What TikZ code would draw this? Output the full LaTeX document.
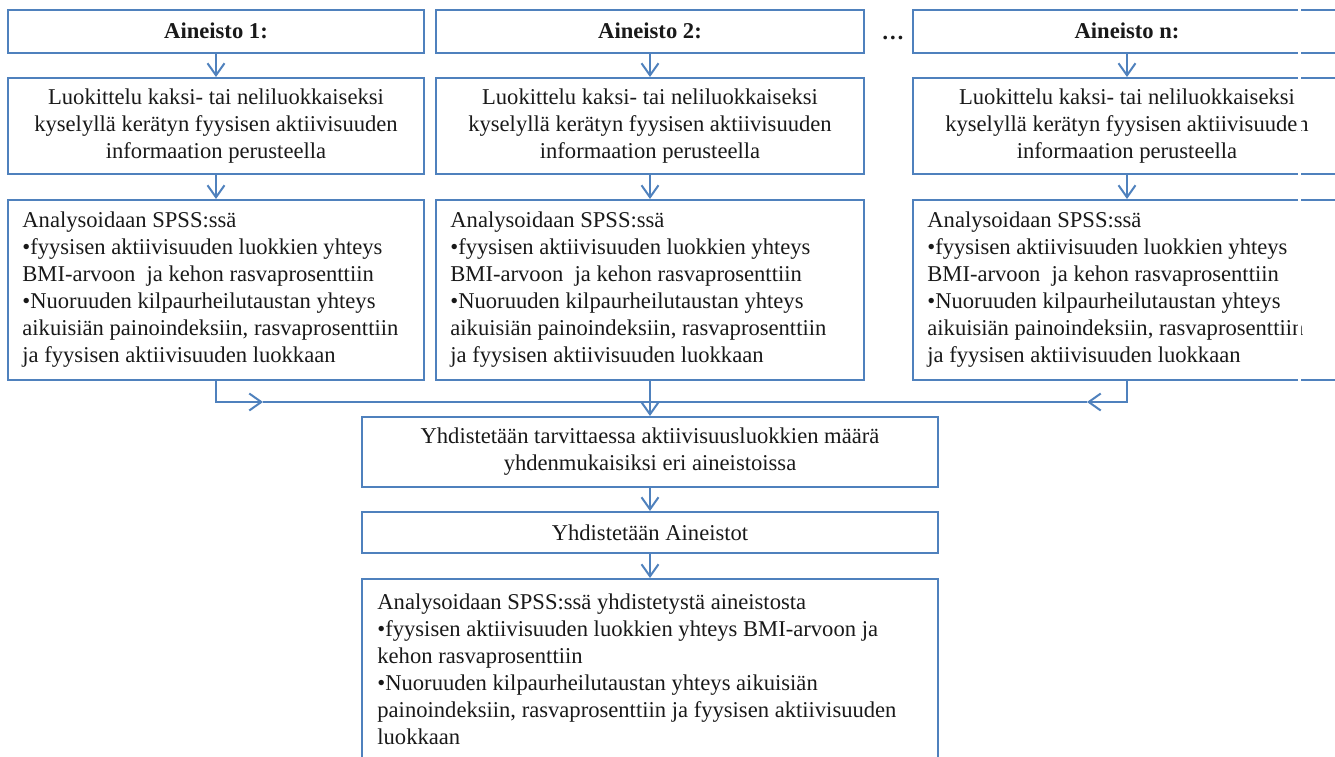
\documentclass[tikz,border=0pt]{standalone}
\usepackage{fontspec}
\setmainfont{Liberation Serif}
\usetikzlibrary{arrows.meta}

\definecolor{boxblue}{RGB}{79,129,189}
\definecolor{ink}{RGB}{25,25,25}

\tikzset{
  box/.style={draw=boxblue, line width=1pt, rectangle, inner sep=0pt, text=ink, align=center},
  txt/.style={inner sep=0pt, text=ink, align=left, anchor=west},
  arr/.style={draw=boxblue, line width=1pt, -{Straight Barb[length=6pt,width=8.5pt]}},
  line/.style={draw=boxblue, line width=1pt}
}

\begin{document}
\begin{tikzpicture}[x=0.5pt, y=-0.5pt, font=\fontsize{11.3}{13.5}\selectfont]

\useasboundingbox (0,0) rectangle (1335,756);
\clip (0,0) rectangle (1335,756);

\def\luok{Luokittelu kaksi- tai neliluokkaiseksi\\kyselyllä kerätyn fyysisen aktiivisuuden\\informaation perusteella}
\def\anal{Analysoidaan SPSS:ssä\\\textbullet fyysisen aktiivisuuden luokkien yhteys\\BMI-arvoon\ \ ja kehon rasvaprosenttiin\\\textbullet Nuoruuden kilpaurheilutaustan yhteys\\aikuisiän painoindeksiin, rasvaprosenttiin\\ja fyysisen aktiivisuuden luokkaan}

\node[box, minimum width=208pt, minimum height=21.5pt] (h1) at (216,31) {\textbf{Aineisto 1:}};
\node[box, minimum width=214pt, minimum height=21.5pt] (h2) at (650,31) {\textbf{Aineisto 2:}};
\node[box, minimum width=214pt, minimum height=21.5pt] (h3) at (1127,31) {\textbf{Aineisto n:}};
\node[inner sep=0pt, text=ink] (dots) at (893,38) {\textbf{…}};

\node[box, minimum width=208pt, minimum height=48pt] (l1) at (216,126) {\luok};
\node[box, minimum width=214pt, minimum height=48pt] (l2) at (650,126) {\luok};
\node[box, minimum width=214pt, minimum height=48pt] (l3) at (1127,126) {\luok};

\node[box, minimum width=208pt, minimum height=90pt] (a1) at (216,290) {};
\node[box, minimum width=214pt, minimum height=90pt] (a2) at (650,290) {};
\node[box, minimum width=214pt, minimum height=90pt] (a3) at (1127,290) {};
\node[txt] (t1) at ([xshift=7.5pt]a1.west) {\anal};
\node[txt] (t2) at ([xshift=7.5pt]a2.west) {\anal};
\node[txt] (t3) at ([xshift=7.5pt]a3.west) {\anal};

\node[box, minimum width=288pt, minimum height=35pt] (m1) at (650,452) {Yhdistetään tarvittaessa aktiivisuusluokkien määrä\\yhdenmukaisiksi eri aineistoissa};
\node[box, minimum width=288pt, minimum height=20.5pt] (m2) at (650,532.5) {Yhdistetään Aineistot};
\node[box, minimum width=288pt, minimum height=90.5pt] (m3) at (650,669.5) {};
\node[txt] (t4) at ([xshift=8pt]m3.west) {Analysoidaan SPSS:ssä yhdistetystä aineistosta\\\textbullet fyysisen aktiivisuuden luokkien yhteys BMI-arvoon ja\\kehon rasvaprosenttiin\\\textbullet Nuoruuden kilpaurheilutaustan yhteys aikuisiän\\painoindeksiin, rasvaprosenttiin ja fyysisen aktiivisuuden\\luokkaan};

\draw[arr] (h1) -- (l1);
\draw[arr] (h2) -- (l2);
\draw[arr] (h3) -- (l3);
\draw[arr] (l1) -- (a1);
\draw[arr] (l2) -- (a2);
\draw[arr] (l3) -- (a3);

\coordinate (j1) at (263,402);
\coordinate (j3) at (1087,402);
\coordinate (jm) at (650,402);
\draw[arr] (a1.south) |- (j1);
\draw[line] (j1) -- (jm);
\draw[arr] (a3.south) |- (j3);
\draw[line] (j3) -- (jm);
\draw[arr] (a2) -- (m1);
\draw[arr] (m1) -- (m2);
\draw[arr] (m2) -- (m3);

\fill[white] (1298,0) rectangle (1301,390);

\end{tikzpicture}
\end{document}
